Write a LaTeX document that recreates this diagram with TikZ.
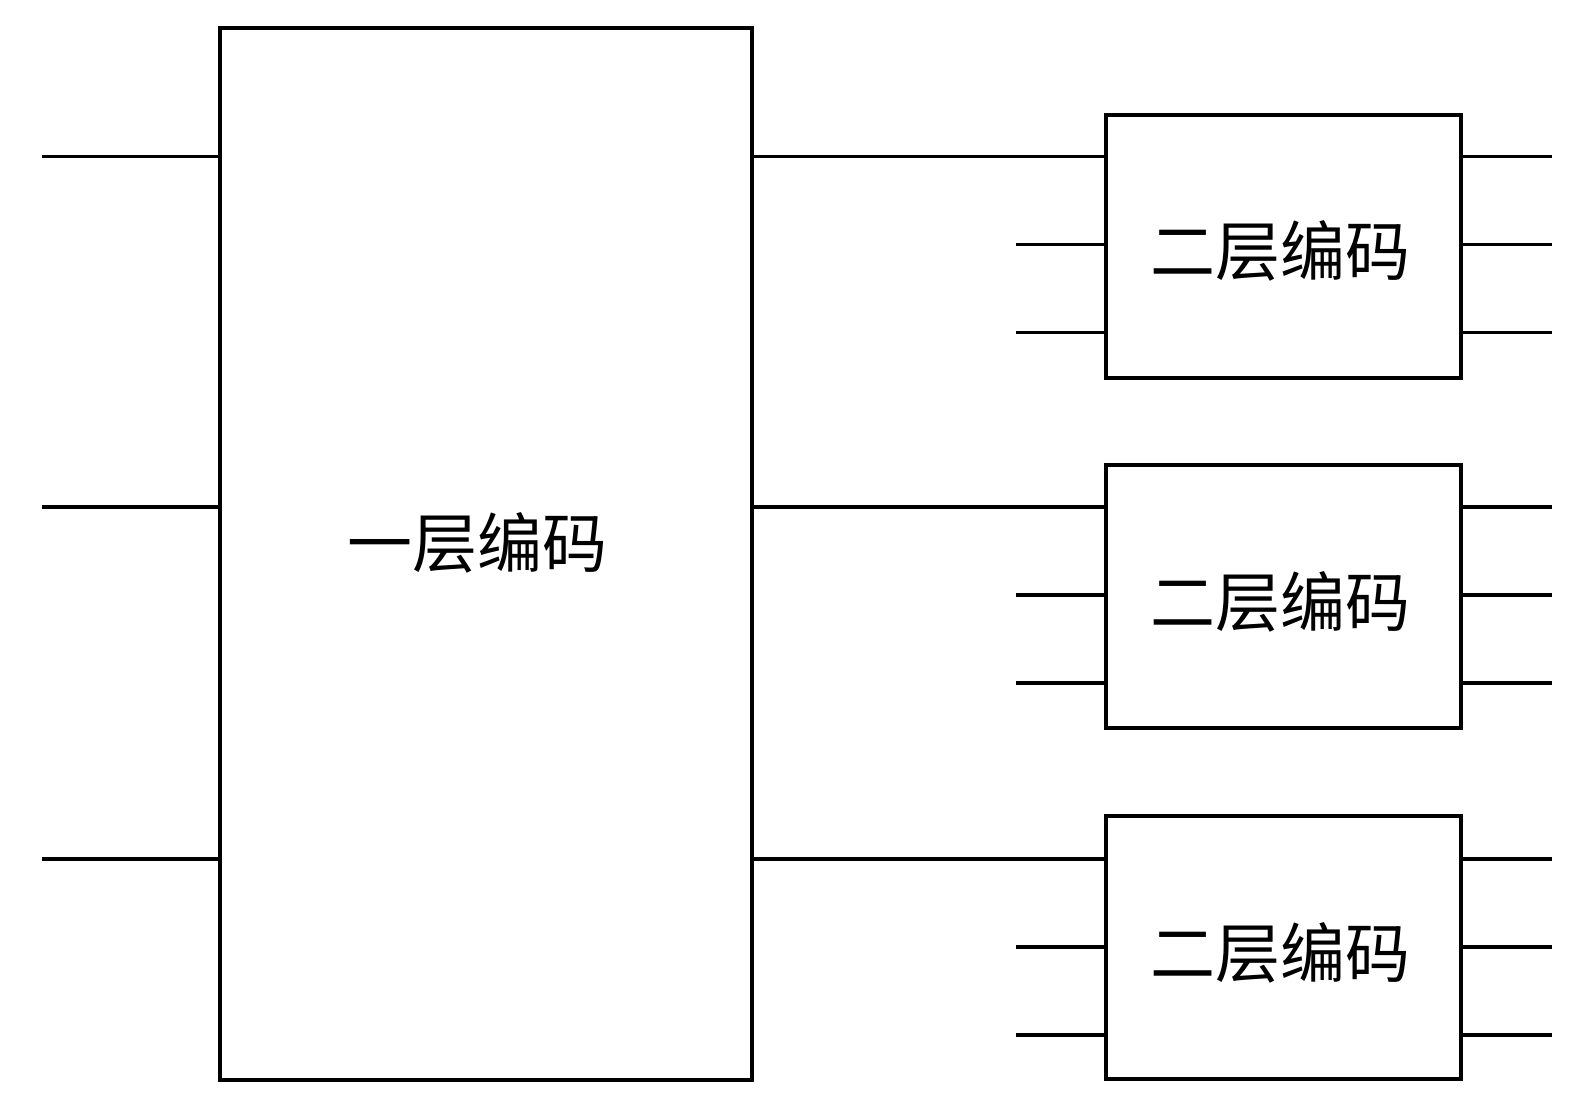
\documentclass[tikz,border=0pt]{standalone}
\usepackage{fontspec}
\newfontfamily\cjk{Noto Sans CJK SC}
\begin{document}
\begin{tikzpicture}[x=1pt,y=-1pt,
  blk/.style={draw=black,line width=4pt,fill=white,inner sep=0pt,font=\cjk\fontsize{65}{65}\selectfont},
  wire/.style={draw=black,line width=3.6pt}]
\useasboundingbox[fill=white] (0,0) rectangle (1589,1106);
\node[blk,minimum width=532pt,minimum height=1052pt] (big) at (486,553.5) {};
\node[font=\cjk\fontsize{65}{65}\selectfont,inner sep=0pt] (bigtxt) at (477,543) {一层编码};
\foreach \i/\cy/\ly in {1/246/244.5,2/596.5/595,3/947.5/947}{
  \node[blk,minimum width=355pt,minimum height=263pt] (s\i) at (1283,\cy) {};
  \node[font=\cjk\fontsize{65}{65}\selectfont,inner sep=0pt] (t\i) at (1280,\cy+5) {二层编码};
  \coordinate (in\i) at (42,\ly-88);
  \draw[wire] (in\i) -- (in\i -| big.west);
  \draw[wire] (in\i -| big.east) -- (in\i -| s\i.west);
  \coordinate (a\i) at (1016,\ly);
  \coordinate (b\i) at (1016,\ly+88);
  \draw[wire] (a\i) -- (a\i -| s\i.west);
  \draw[wire] (b\i) -- (b\i -| s\i.west);
  \foreach \k/\dy in {1/-88,2/0,3/88}{
    \coordinate (o\i\k) at (1552,\ly+\dy);
    \draw[wire] (o\i\k -| s\i.east) -- (o\i\k);
  }
}
\end{tikzpicture}
\end{document}
